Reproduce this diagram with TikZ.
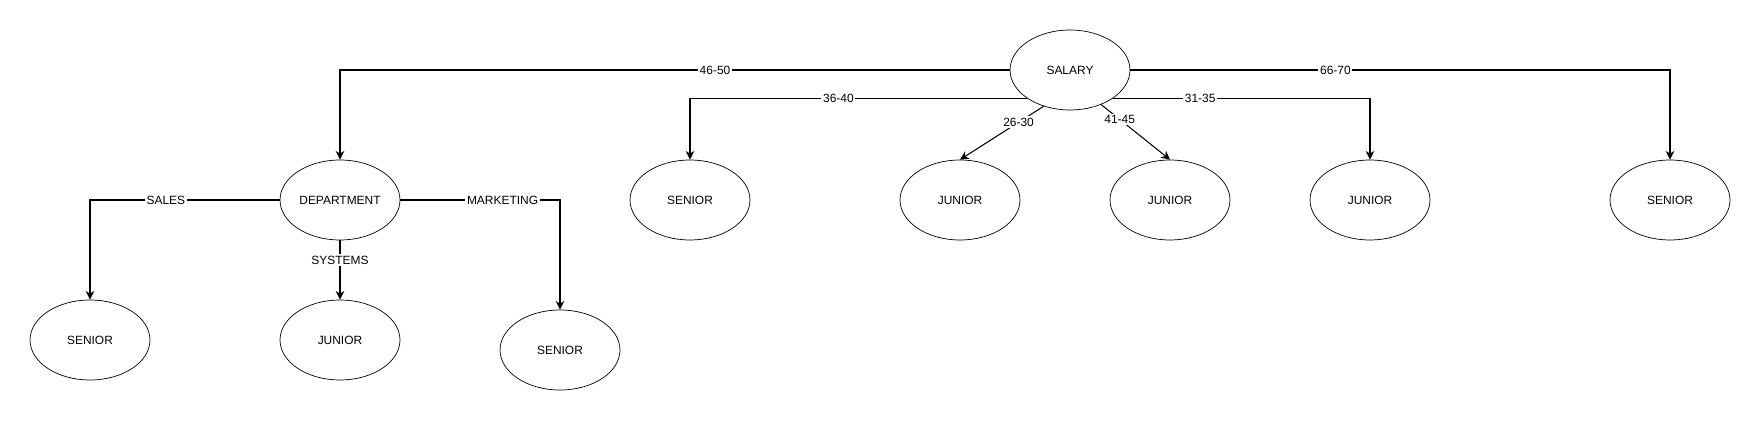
\documentclass[tikz,border=0pt]{standalone}
\usepackage{fontspec}
\setmainfont{Liberation Sans}
\usepackage{tikz}
\usetikzlibrary{calc}
\usetikzlibrary{math}
\usetikzlibrary{arrows.meta}
\usetikzlibrary{shapes.geometric}
\tikzset{
  attr/.style={draw, ellipse, minimum width=2.4cm, minimum height=1.6cm, inner sep=0pt},
  rel/.style={line width=0.6pt, -{Stealth[length=5pt,width=5pt]}},
  lbl/.style={fill=white, inner sep=1pt},
}

\begin{document}
\begin{tikzpicture}[x=0.02cm, y=-0.02cm, font=\fontsize{6.8}{8}\selectfont]

%%%%%%%%%%%%%%%%%%%%%%%%%%%%%%%%%%%%%%%%%%%%%%%%%%%%%%%%%%%%%% Setup
\coordinate (C) at (0, 0);
% just to have nice boundaries to the picture
\useasboundingbox ($(C)+(0,0)$) rectangle ($(C)+(1761,421)$);

%%%%%%%%%%%%%%%%%%%%%%%%%%%%%%%%%%%%%%%%%%%%%%%%%%%%%%%%%%%%%% Salary

\node[attr] (salary) at ($(C)+(1070,70)$) {SALARY};

\node[attr] (dept) at ($(C)+(340,200)$) {DEPARTMENT};
\node[attr] (senA) at ($(C)+(690,200)$) {SENIOR};
\node[attr] (junA) at ($(C)+(960,200)$) {JUNIOR};
\node[attr] (junB) at ($(C)+(1170,200)$) {JUNIOR};
\node[attr] (junC) at ($(C)+(1370,200)$) {JUNIOR};
\node[attr] (senB) at ($(C)+(1670,200)$) {SENIOR};

\draw[rel] (salary.west) -| (dept.north) node[lbl, pos=0.22] {46-50};
\draw[rel] (salary.south west) -| (senA.north) node[lbl, pos=0.28] {36-40};
\draw[rel] (salary.234) -- (junA.north) node[lbl, pos=0.3] {26-30};
\draw[rel] (salary.312) -- (junB.north) node[lbl, pos=0.27] {41-45};
\draw[rel] (salary.south east) -| (junC.north) node[lbl, pos=0.17] {31-35};
\draw[rel] (salary.east) -| (senB.north) node[lbl, pos=0.19] {66-70};

%%%%%%%%%%%%%%%%%%%%%%%%%%%%%%%%%%%%%%%%%%%%%%%%%%%%%%%%%%%%%% Department

\node[attr] (senC) at ($(C)+(90,340)$) {SENIOR};
\node[attr] (junD) at ($(C)+(340,340)$) {JUNIOR};
\node[attr] (senD) at ($(C)+(560,350)$) {SENIOR};

\draw[rel] (dept.west) -| (senC.north) node[lbl, pos=0.3] {SALES};
\draw[rel] (dept.south) -- (junD.north) node[lbl, pos=0.33] {SYSTEMS};
\draw[rel] (dept.east) -| (senD.north) node[lbl, pos=0.32] {MARKETING};

\end{tikzpicture}
\end{document}
